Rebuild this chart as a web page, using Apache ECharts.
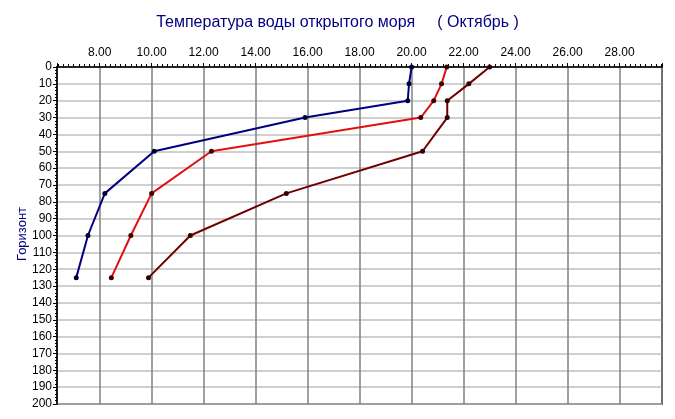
<!DOCTYPE html>
<html>
<head>
<meta charset="utf-8">
<script src="https://cdn.jsdelivr.net/npm/echarts@6/dist/echarts.min.js"></script>
<style>html,body{margin:0;padding:0;background:#fff}#c{width:675px;height:419px}</style>
</head>
<body>
<div id="c"></div>
<script>
var depths = [0, 10, 20, 30, 50, 75, 100, 125];
var blueTemps = [20.0, 19.9, 19.85, 15.9, 10.1, 8.2, 7.55, 7.1];
var redTemps = [21.35, 21.15, 20.85, 20.35, 12.3, 10.0, 9.2, 8.45];
var darkTemps = [23.0, 22.2, 21.37, 21.37, 20.42, 15.18, 11.49, 9.88];
var titleText = 'Температура воды открытого моря     ( Октябрь )';
var yName = 'Горизонт';

function pairs(t) { return depths.map(function (d, i) { return [t[i], d]; }); }
function mk(data, color, dot) {
  return {
    type: 'line', data: pairs(data), symbol: 'circle', symbolSize: 5, clip: false, z: 10,
    showAllSymbol: true,
    lineStyle: { color: color, width: 2 },
    itemStyle: { color: dot, borderWidth: 0 },
    animation: false
  };
}
var chart = echarts.init(document.getElementById('c'));
chart.setOption({
  backgroundColor: '#fff',
  animation: false,
  title: {
    text: titleText, left: 'center', top: 10,
    textStyle: { color: '#000080', fontSize: 16, fontWeight: 'normal', fontFamily: 'Liberation Sans' }
  },
  graphic: [{
    type: 'text', x: 22, y: 234, rotation: Math.PI / 2, silent: true,
    style: { text: yName, fill: '#000080', font: '13px "Liberation Sans"', textAlign: 'center', textVerticalAlign: 'middle' }
  }],
  grid: { left: 57, right: 13, top: 67, bottom: 15, show: true, borderColor: '#000', borderWidth: 1.5 },
  xAxis: {
    type: 'value', position: 'top', min: 6.36, max: 29.63, splitNumber: 12,
    axisLine: { show: true, lineStyle: { color: '#000', width: 1.5 } },
    axisTick: { show: true, length: 4, lineStyle: { color: '#000' } },
    minorTick: { show: true, splitNumber: 10, length: 3, lineStyle: { color: '#000' } },
    axisLabel: {
      color: '#000', fontSize: 12, fontFamily: 'Liberation Sans', margin: 8,
      formatter: function (v) { return (Math.abs(v - Math.round(v)) < 1e-6 && Math.round(v) % 2 === 0) ? v.toFixed(2) : ''; }
    },
    splitLine: { show: true, lineStyle: { color: '#808080', width: 1.5 } }
  },
  yAxis: {
    type: 'value', inverse: true, min: 0, max: 200, interval: 10,
    axisLine: { show: true, lineStyle: { color: '#000', width: 1.5 } },
    axisTick: { show: true, length: 4, lineStyle: { color: '#000' } },
    minorTick: { show: true, splitNumber: 5, length: 2, lineStyle: { color: '#000' } },
    axisLabel: { color: '#000', fontSize: 12, fontFamily: 'Liberation Sans', margin: 5 },
    splitLine: { show: true, lineStyle: { color: '#c0c0c0', width: 1.5 } }
  },
  series: [
    mk(blueTemps, '#000080', '#000030'),
    mk(redTemps, '#e01010', '#400000'),
    mk(darkTemps, '#700000', '#300000')
  ]
});
</script>
</body>
</html>
